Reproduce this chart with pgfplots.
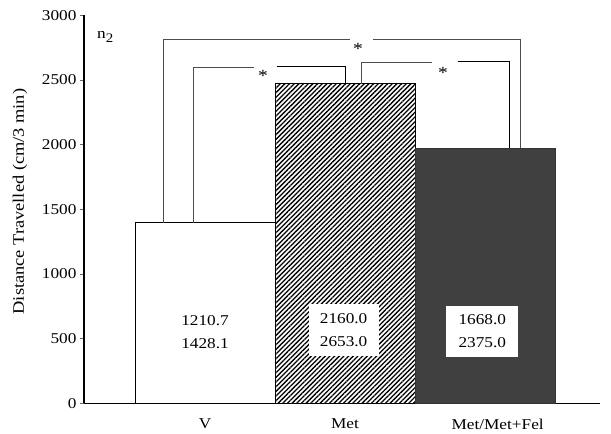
\documentclass[border=0pt]{standalone}
\usepackage{fontspec}
\setmainfont{Liberation Serif}[FakeStretch=1.15]
\usepackage{pgfplots}
\pgfplotsset{compat=1.18}
\usetikzlibrary{patterns.meta}
\begin{document}
\begin{tikzpicture}
\begin{axis}[
  at={(0,0)}, anchor=south west,
  scale only axis, width=516pt, height=388pt,
  xmin=-0.864, xmax=2.821, ymin=0, ymax=3000,
  axis x line*=bottom, axis y line*=left,
  x axis line style={line width=1.3pt},
  y axis line style={line width=2pt},
  xtick={0,1,2.09}, xticklabels={V,Met,Met/Met+Fel},
  xtick style={draw=none},
  xticklabel style={yshift=-8pt},
  ytick={0,500,...,3000},
  ytick style={black!60, line width=0.6pt},
  tick align=outside, major tick length=4pt,
  /pgf/number format/assume math mode=true,
  /pgf/number format/set thousands separator={},
  tick label style={font=\fontsize{15}{18}\selectfont},
  ylabel={Distance Travelled (cm/3 min)},
  ylabel style={font=\fontsize{16}{19}\selectfont, at={(axis description cs:0,0.52)}, anchor=center, yshift=64pt},
  clip=false,
]
\addplot[ybar, bar width=140pt, bar shift=0pt, fill=white, draw=black, line width=0.8pt] coordinates {(0,1395)};
\addplot[ybar, bar width=140pt, bar shift=0pt, draw=black, line width=0.8pt,
  pattern={Lines[angle=45,distance=3.3pt,line width=1.3pt]}, pattern color=black] coordinates {(1,2471)};
\addplot[ybar, bar width=140pt, bar shift=0pt, fill=black!75, draw=black!80, line width=0.8pt] coordinates {(2,1974)};
% brackets
\addplot[black!70, line width=0.8pt, no marks] coordinates {(-0.3,1395) (-0.3,2812) (1.036,2812)};
\addplot[black!70, line width=0.8pt, no marks] coordinates {(1.2,2812) (2.25,2812) (2.25,1974)};
\addplot[black!70, line width=0.8pt, no marks] coordinates {(-0.086,1395) (-0.086,2600) (0.35,2600)};
\addplot[black, line width=0.8pt, no marks] coordinates {(0.512,2605) (1.005,2605) (1.005,2471)};
\addplot[black!70, line width=0.8pt, no marks] coordinates {(1.12,2471) (1.12,2634) (1.62,2634)};
\addplot[black, line width=0.8pt, no marks] coordinates {(1.805,2641) (2.171,2641) (2.171,1974)};
\node[font=\fontsize{17}{18}\selectfont, inner sep=0pt] at (axis cs:1.093,2740) {*};
\node[font=\fontsize{17}{18}\selectfont, inner sep=0pt] at (axis cs:0.414,2530) {*};
\node[font=\fontsize{17}{18}\selectfont, inner sep=0pt] at (axis cs:1.7,2553) {*};
\node[font=\fontsize{15}{18}\selectfont, anchor=base west, inner sep=0pt] at (axis cs:-0.771,2820) {n\textsubscript{\fontsize{13}{14}\selectfont 2}};
% value labels
\node[font=\fontsize{15}{23}\selectfont, align=center] at (axis cs:0,552) {1210.7\\1428.1};
\node[font=\fontsize{15}{23}\selectfont, align=center, fill=white, minimum width=70pt, minimum height=52pt, inner sep=0pt] at (axis cs:0.99,567) {2160.0\\2653.0};
\node[font=\fontsize{15}{23}\selectfont, align=center, fill=white, minimum width=72pt, minimum height=51pt, inner sep=0pt] at (axis cs:1.98,557) {1668.0\\2375.0};
\end{axis}
\pgfresetboundingbox
\path (-84pt,-30.7pt) rectangle (527pt,403.3pt);
\end{tikzpicture}
\end{document}
